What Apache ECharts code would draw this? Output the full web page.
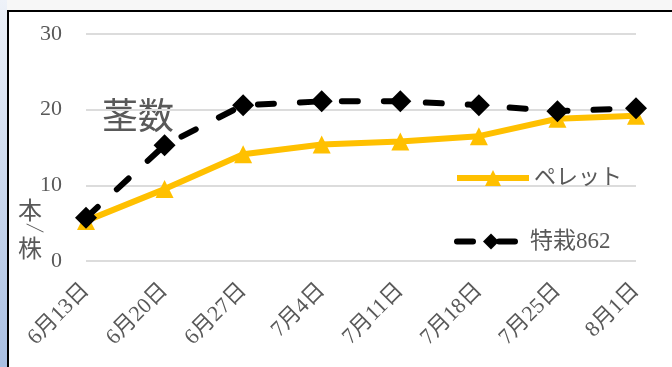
<!DOCTYPE html>
<html>
<head>
<meta charset="utf-8">
<script src="https://cdn.jsdelivr.net/npm/echarts@6/dist/echarts.min.js"></script>
<style>
  html, body {margin: 0; padding: 0; width: 672px; height: 367px; overflow: hidden; background: #f7f7f7;}
  .side {position: absolute; left: 0; top: 0; width: 7px; height: 367px; background: linear-gradient(#eef2f9, #a9bfe2);}
  .frame {position: absolute; left: 7px; top: 10px; width: 670px; height: 360px; background: #fff; border-left: 2px solid #000; border-top: 2px solid #000;}
  #chart {position: absolute; left: 0; top: 0; width: 672px; height: 367px;}
</style>
</head>
<body>
<div class="side"></div>
<div class="frame"></div>
<div id="chart"></div>
<script>
const categories = ['6月13日', '6月20日', '6月27日', '7月4日', '7月11日', '7月18日', '7月25日', '8月1日']
const pellet = [5.3, 9.5, 14.1, 15.4, 15.8, 16.5, 18.8, 19.2]
const tokusai = [5.7, 15.3, 20.6, 21.1, 21.1, 20.6, 19.8, 20.2]
const seriesNames = ['ペレット', '特栽862']

const grayText = '#595959'
const font = "'Liberation Serif', 'Noto Sans CJK JP', serif"

const myChart = echarts.init(document.getElementById('chart'))
myChart.setOption({
  animation: false,
  grid: {left: 86, right: 36, top: 34, bottom: 106},
  legend: [{
    data: [seriesNames[0]],
    left: 454, top: 167, padding: 0,
    itemWidth: 72, itemHeight: 20,
    lineStyle: {width: 6},
    textStyle: {color: grayText, fontSize: 22, fontFamily: font}
  }, {
    data: [seriesNames[1]],
    left: 454, top: 230, padding: 0,
    itemWidth: 68, itemHeight: 20,
    lineStyle: {width: 6},
    textStyle: {color: grayText, fontSize: 23, fontFamily: font}
  }],
  xAxis: {
    type: 'category',
    boundaryGap: false,
    data: categories,
    axisLine: {show: false},
    axisTick: {show: false},
    axisLabel: {rotate: 45, margin: 26, color: grayText, fontSize: 22, fontFamily: font}
  },
  yAxis: {
    type: 'value',
    min: 0, max: 30, interval: 10,
    axisLabel: {margin: 24, color: grayText, fontSize: 22, fontFamily: font},
    splitLine: {lineStyle: {color: '#dcdcdc', width: 2}}
  },
  graphic: [
    {type: 'text', left: 102, top: 97, style: {text: '茎数', fill: grayText, font: "36px 'Noto Sans CJK JP'"}},
    {type: 'text', left: 18, top: 198, style: {text: '本', fill: grayText, font: "24px 'Noto Sans CJK JP'"}},
    {type: 'text', x: 35, y: 228, rotation: -0.45, style: {text: '―', fill: grayText, font: "22px 'Noto Sans CJK JP'", align: 'center', verticalAlign: 'middle'}},
    {type: 'text', left: 18, top: 236, style: {text: '株', fill: grayText, font: "24px 'Noto Sans CJK JP'"}}
  ],
  series: [{
    name: seriesNames[0],
    type: 'line',
    data: pellet,
    symbol: 'triangle',
    symbolSize: 18,
    color: '#FFC000',
    lineStyle: {width: 6, color: '#FFC000'},
    itemStyle: {color: '#FFC000'}
  }, {
    name: seriesNames[1],
    type: 'line',
    data: tokusai,
    symbol: 'diamond',
    symbolSize: 22,
    color: '#000',
    lineStyle: {width: 6, color: '#000', type: [16, 26], cap: 'round'},
    itemStyle: {color: '#000'}
  }]
})
</script>
</body>
</html>
